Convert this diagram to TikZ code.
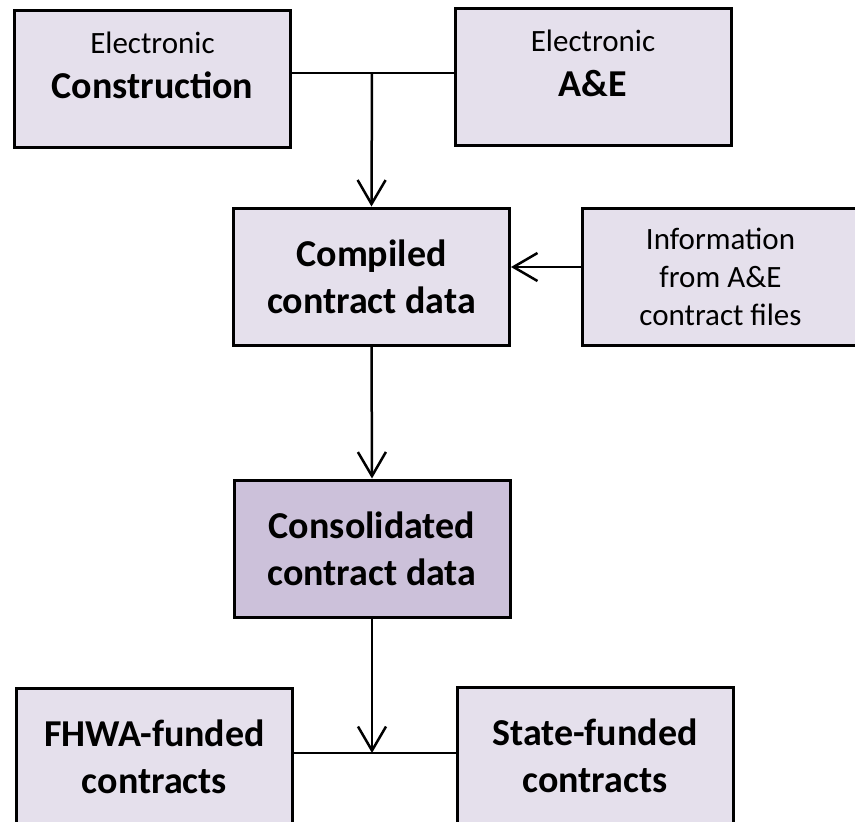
\documentclass[tikz,border=0pt]{standalone}
\usepackage{fontspec}
\setmainfont{Carlito}
\usetikzlibrary{arrows.meta}
\definecolor{boxfill}{HTML}{E5E0EC}
\definecolor{mainfill}{HTML}{CCC1DA}
\newcommand{\boldline}{\fontsize{38}{47}\selectfont\bfseries}
\begin{document}
\begin{tikzpicture}[x=1pt,y=-1pt,
  box/.style={draw=black, line width=3pt, fill=boxfill, minimum width=276pt,
    minimum height=137pt, inner sep=0pt, align=center,
    font=\fontsize{31}{38}\selectfont},
  boldbox/.style={box, font=\boldline},
  link/.style={line width=2.5pt},
  flow/.style={link, -{Straight Barb[length=24pt,width=28pt]}}]
\useasboundingbox (0,0) rectangle (855,822);
\node [box, text depth=26pt] (constr) at (152.5,78.5) {Electronic\\[7pt]{\boldline Construction}};
\node [box, text depth=26pt] (ae) at (593,76.5) {Electronic\\[7pt]{\boldline A\&E}};
\node [boldbox] (compiled) at (371.5,276.5) {Compiled\\contract data};
\node [box] (info) at (720.5,276.5) {Information\\from A\&E\\contract files};
\node [boldbox, fill=mainfill] (consol) at (372,548.5) {Consolidated\\contract data};
\node [boldbox] (fhwa) at (154.5,756.5) {FHWA-funded\\contracts};
\node [boldbox] (state) at (595,755.5) {State-funded\\contracts};
\coordinate (jtop) at (372,73);
\coordinate (jinfo) at (582,267);
\coordinate (jbot) at (372,753);
\draw [link] (constr.east |- jtop) -- (ae.west |- jtop);
\draw [flow] (jtop) -- (compiled.north);
\draw [flow] (info.west |- jinfo) -- (compiled.east |- jinfo);
\draw [flow] (compiled.south) -- (consol.north);
\draw [link] (fhwa.east |- jbot) -- (state.west |- jbot);
\draw [flow] (consol.south) -- (jbot);
\end{tikzpicture}
\end{document}
